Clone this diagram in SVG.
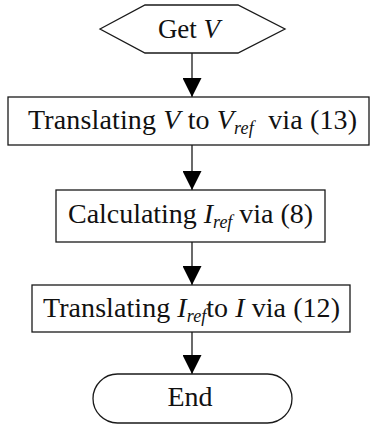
<svg xmlns="http://www.w3.org/2000/svg" width="374" height="428" viewBox="0 0 374 428">
<style>
.shape{fill:#fff;stroke:#1a1a1a;stroke-width:1.3}
.conn{stroke:#1a1a1a;stroke-width:1.3;fill:none}
text{font-family:"Liberation Serif","Times New Roman",serif;font-size:28px;fill:#111}
.it{font-style:italic}
.sub{font-style:italic;font-size:18px}
</style>
<defs>
<marker id="ah" markerUnits="userSpaceOnUse" markerWidth="19" markerHeight="19" refX="19" refY="9.5" orient="auto">
<path d="M0,0 L19,9.5 L0,19 z" fill="#000"/>
</marker>
</defs>
<rect width="374" height="428" fill="#fff"/>
<g id="connectors">
<line class="conn" x1="192" y1="53" x2="192" y2="97" marker-end="url(#ah)"/>
<line class="conn" x1="192" y1="145" x2="192" y2="190" marker-end="url(#ah)"/>
<line class="conn" x1="192" y1="242" x2="192" y2="285" marker-end="url(#ah)"/>
<line class="conn" x1="192" y1="332" x2="192" y2="374" marker-end="url(#ah)"/>
</g>
<g id="get-v">
<polygon class="shape" points="100,29 145,5 238,5 285,29 238,53 145,53"/>
<text x="189" y="38" text-anchor="middle" style="font-size:27px">Get <tspan class="it">V</tspan></text>
</g>
<g id="translate-v">
<rect class="shape" x="8" y="97" width="361" height="48"/>
<text x="192.5" y="129" text-anchor="middle" textLength="329" lengthAdjust="spacing">Translating <tspan class="it">V</tspan> to <tspan class="it">V</tspan><tspan class="sub" dy="5">ref</tspan><tspan dy="-5">&#160; via (13)</tspan></text>
</g>
<g id="calc-iref">
<rect class="shape" x="56" y="190" width="269" height="52"/>
<text x="190.5" y="223" text-anchor="middle" textLength="245" lengthAdjust="spacing">Calculating <tspan class="it">I</tspan><tspan class="sub" dy="5">ref</tspan><tspan dy="-5"> via (8)</tspan></text>
</g>
<g id="translate-iref">
<rect class="shape" x="32" y="285" width="318" height="47"/>
<text x="191.5" y="317" text-anchor="middle" textLength="297" lengthAdjust="spacing">Translating <tspan class="it">I</tspan><tspan class="sub" dy="5">ref</tspan><tspan dy="-5">to </tspan><tspan class="it">I</tspan> via (12)</text>
</g>
<g id="end">
<rect class="shape" x="93" y="374" width="199" height="49" rx="24.5" ry="24.5"/>
<text x="190" y="406" text-anchor="middle">End</text>
</g>
</svg>
